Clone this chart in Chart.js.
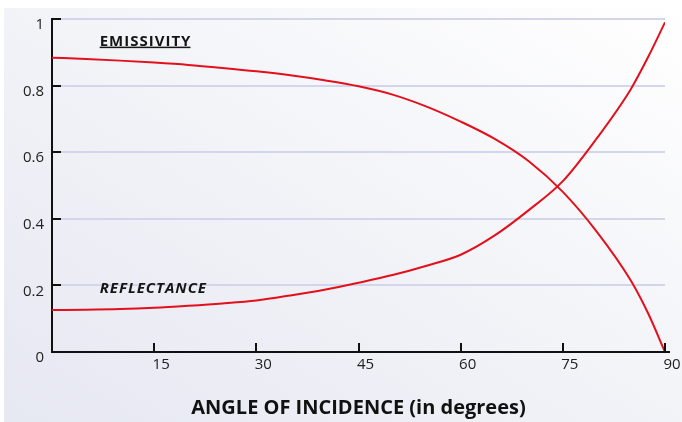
<!DOCTYPE html>
<html>
<head>
<meta charset="utf-8">
<script src="https://cdn.jsdelivr.net/npm/chart.js@4.4.1/dist/chart.umd.min.js"></script>
<style>
  html, body { margin: 0; padding: 0; background: #ffffff; }
  #wrap { position: relative; width: 682px; height: 422px; overflow: hidden; }
  #bg {
    position: absolute; left: 4px; top: 8px; right: 0; bottom: 0;
    background: linear-gradient(to top right, #e6e8f2 0%, #f1f2f7 45%, #ffffff 100%);
  }
  #c { position: absolute; left: 0; top: 0; }
</style>
</head>
<body>
<div id="wrap">
  <div id="bg"></div>
  <canvas id="c" width="682" height="422"></canvas>
</div>
<script>
// Angle of incidence (degrees) at which each curve is sampled
const angles      = [0, 5, 10, 15, 20, 25, 30, 35, 40, 45, 50, 55, 60, 65, 70, 75, 80, 85, 87.5, 90];
const emissivity  = [0.884, 0.880, 0.875, 0.869, 0.862, 0.853, 0.843, 0.831, 0.816, 0.798, 0.773, 0.737, 0.692, 0.640, 0.573, 0.481, 0.361, 0.214, 0.117, 0.0];
const reflectance = [0.126, 0.127, 0.129, 0.133, 0.139, 0.146, 0.155, 0.170, 0.187, 0.208, 0.231, 0.259, 0.292, 0.350, 0.426, 0.513, 0.642, 0.790, 0.885, 0.990];

const xTicks = [15, 30, 45, 60, 75, 90];
const yTicks = [0, 0.2, 0.4, 0.6, 0.8, 1];

const RED = '#e3101c';
const FONT = '"Open Sans", "Noto Sans", sans-serif';

const toPoints = (vals) => angles.map((a, i) => ({ x: a, y: vals[i] }));

// Inside tick stubs, extended bottom axis, and the curve names
const decorations = {
  id: 'decorations',
  afterDraw(chart) {
    const { ctx, chartArea: ca, scales: { x, y } } = chart;
    ctx.save();
    ctx.strokeStyle = '#111';
    ctx.lineWidth = 2;
    ctx.beginPath();
    ctx.moveTo(ca.left, y.getPixelForValue(0));
    ctx.lineTo(ca.right + 5, y.getPixelForValue(0));
    yTicks.filter(v => v > 0).forEach(v => {
      const py = Math.round(y.getPixelForValue(v));
      ctx.moveTo(ca.left, py);
      ctx.lineTo(ca.left + 9, py);
    });
    xTicks.forEach(v => {
      const px = Math.round(x.getPixelForValue(v));
      ctx.moveTo(px, ca.bottom);
      ctx.lineTo(px, ca.bottom - 9);
    });
    ctx.stroke();

    ctx.fillStyle = '#151515';
    ctx.textBaseline = 'alphabetic';
    ctx.textAlign = 'left';
    ctx.letterSpacing = '1px';
    ctx.font = 'bold 15px ' + FONT;
    const ex = x.getPixelForValue(7), ey = y.getPixelForValue(0.92);
    ctx.fillText('EMISSIVITY', ex, ey);
    const w = ctx.measureText('EMISSIVITY').width - 1;
    ctx.fillRect(ex, ey + 1, w, 1.5);

    ctx.font = 'italic bold 15px ' + FONT;
    ctx.fillText('REFLECTANCE', x.getPixelForValue(7), y.getPixelForValue(0.177));
    ctx.restore();
  }
};

new Chart(document.getElementById('c'), {
  type: 'line',
  data: {
    datasets: [
      { label: 'Emissivity', data: toPoints(emissivity), borderColor: RED, borderWidth: 2,
        pointRadius: 0, cubicInterpolationMode: 'monotone', fill: false },
      { label: 'Reflectance', data: toPoints(reflectance), borderColor: RED, borderWidth: 2,
        pointRadius: 0, cubicInterpolationMode: 'monotone', fill: false }
    ]
  },
  options: {
    responsive: false,
    animation: false,
    layout: { padding: { top: 19, right: 17, left: 0, bottom: 0 } },
    plugins: { legend: { display: false }, tooltip: { enabled: false } },
    scales: {
      x: {
        type: 'linear', min: 0, max: 90,
        afterBuildTicks: (s) => { s.ticks = [0].concat(xTicks).map(v => ({ value: v })); },
        afterFit: (s) => { s.height = 70; },
        ticks: {
          color: '#222', font: { family: FONT, size: 15 }, padding: 4, labelOffset: 7,
          maxRotation: 0, autoSkip: false,
          callback: (v) => (v === 0 ? '' : String(v))
        },
        grid: { display: false, drawTicks: false },
        border: { display: false },
        title: {
          display: true, text: 'ANGLE OF INCIDENCE (in degrees)', color: '#111',
          font: { family: FONT, size: 20, weight: 'bold' }, padding: { top: 0, bottom: 2 }
        }
      },
      y: {
        min: 0, max: 1,
        afterBuildTicks: (s) => { s.ticks = yTicks.map(v => ({ value: v })); },
        afterFit: (s) => { s.width = 52; },
        ticks: {
          color: '#222', font: { family: FONT, size: 15 }, padding: 8, labelOffset: 6,
          callback: (v) => String(v)
        },
        grid: { color: '#d3d6ea', lineWidth: 2, drawTicks: false },
        border: { display: true, color: '#111', width: 2 }
      }
    }
  },
  plugins: [decorations]
});
</script>
</body>
</html>
